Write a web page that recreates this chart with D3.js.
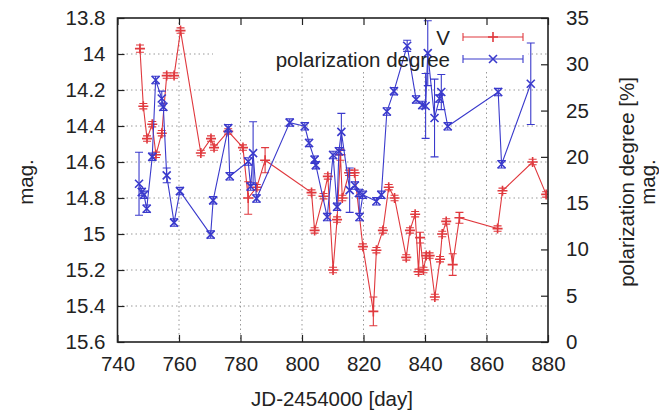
<!DOCTYPE html>
<html>
<head>
<meta charset="utf-8">
<script src="https://cdn.jsdelivr.net/npm/d3@7"></script>
<style>
  body { margin: 0; background: #fff; }
  text { font-family: "Liberation Sans", Arial, sans-serif; fill: #222; }
</style>
</head>
<body>
<div id="chart"></div>
<script>
// tick labels
var xTicks = [740, 760, 780, 800, 820, 840, 860, 880];
var magTicks = [13.8, 14, 14.2, 14.4, 14.6, 14.8, 15, 15.2, 15.4, 15.6];
var polTicks = [0, 5, 10, 15, 20, 25, 30, 35];

// V magnitude
var vDay = [747.3, 748.4, 749.6, 751.3, 752.5, 754.4, 756.0, 758.4, 760.5, 767.1, 770.4, 771.4, 776.0, 780.8, 782.5, 785.3, 788.0,
  803.1, 804.1, 807.0, 808.4, 810.1, 811.4, 812.5, 813.1, 815.3, 817.1, 819.8, 823.2, 824.2, 826.3, 828.2, 830.1, 833.9, 835.1,
  836.8, 837.9, 838.4, 839.5, 840.4, 841.5, 843.2, 844.9, 845.6, 846.9, 849.0, 851.2, 863.6, 865.2, 875.0, 879.4];
var vMag = [13.97, 14.29, 14.47, 14.39, 14.56, 14.44, 14.12, 14.12, 13.87, 14.55, 14.47, 14.52, 14.43, 14.52, 14.80, 14.74, 14.59,
  14.77, 14.98, 14.79, 14.68, 15.20, 14.92, 14.56, 14.80, 14.66, 14.66, 15.07, 15.43, 15.09, 14.98, 14.74, 14.80, 15.13, 14.98,
  14.89, 15.21, 15.02, 15.20, 15.12, 15.12, 15.35, 15.14, 15.00, 14.93, 15.17, 14.91, 14.97, 14.76, 14.60, 14.78];
var vErr = [0.02, 0.015, 0.015, 0.015, 0.015, 0.015, 0.015, 0.015, 0.015, 0.015, 0.015, 0.015, 0.015, 0.015, 0.09, 0.015, 0.07,
  0.015, 0.015, 0.015, 0.015, 0.015, 0.015, 0.03, 0.015, 0.015, 0.015, 0.015, 0.08, 0.015, 0.015, 0.015, 0.015, 0.015, 0.015,
  0.015, 0.015, 0.03, 0.015, 0.015, 0.015, 0.015, 0.015, 0.015, 0.015, 0.06, 0.03, 0.015, 0.015, 0.015, 0.015];

// polarization degree [%]
var pDay = [747.0, 747.9, 748.6, 749.5, 751.3, 752.4, 754.4, 754.9, 756.0, 758.4, 760.3, 770.3, 771.1, 776.0, 776.5, 782.5, 783.3,
  784.1, 785.2, 796.0, 800.9, 802.3, 804.1, 804.5, 808.2, 810.1, 811.4, 812.0, 812.8, 815.5, 817.2, 818.5, 818.7, 819.8, 824.2,
  825.8, 827.6, 829.9, 834.2, 837.1, 839.1, 840.2, 840.9, 843.1, 844.7, 845.3, 847.4, 863.8, 864.9, 874.4];
var pPol = [17.1, 16.2, 15.9, 14.4, 20.0, 28.3, 26.3, 25.4, 18.0, 12.9, 16.3, 11.6, 15.3, 23.1, 17.9, 19.5, 16.8,
  20.4, 15.5, 23.7, 23.3, 21.5, 19.7, 19.1, 13.5, 20.2, 14.6, 20.6, 22.7, 16.4, 16.9, 16.1, 13.5, 15.9, 15.2,
  15.9, 24.9, 27.1, 32.0, 26.2, 25.6, 25.5, 31.2, 24.2, 26.3, 27.0, 23.3, 27.0, 19.2, 27.9];
var pErr = [3.4, 0.4, 0.4, 0.4, 0.4, 0.4, 0.8, 0.4, 0.8, 0.4, 0.4, 0.4, 0.4, 0.4, 0.4, 0.4, 0.4,
  3.4, 0.4, 0.4, 0.4, 0.4, 0.4, 0.4, 0.4, 0.4, 0.4, 0.4, 2.0, 2.4, 0.4, 0.4, 0.4, 0.4, 0.4,
  0.4, 0.4, 0.4, 0.6, 0.4, 0.4, 3.5, 3.5, 4.2, 0.4, 1.9, 0.4, 0.4, 0.4, 4.4];

var width = 659, height = 410;
var plotL = 117.5, plotR = 548, plotT = 18, plotB = 342;
var red = "#e0393e", blue = "#3a3acc";
var fontSize = "20.5px";

var svg = d3.select("#chart").append("svg")
    .attr("width", width)
    .attr("height", height);

var x = d3.scaleLinear().domain([740, 880]).range([plotL, plotR]);
var yMag = d3.scaleLinear().domain([13.8, 15.6]).range([plotT, plotB]);
var yPol = d3.scaleLinear().domain([0, 35]).range([plotB, plotT]);

// grid
var grid = svg.append("g").attr("stroke", "#999").attr("stroke-width", 1).attr("stroke-dasharray", "1.5,3");
grid.selectAll("line.gx").data(xTicks.slice(1, -1)).enter().append("line")
    .attr("x1", function (d) { return x(d); }).attr("x2", function (d) { return x(d); })
    .attr("y1", plotT).attr("y2", plotB);
grid.selectAll("line.gy").data(magTicks.slice(1, -1)).enter().append("line")
    .attr("x1", plotL).attr("x2", plotR)
    .attr("y1", function (d) { return yMag(d); }).attr("y2", function (d) { return yMag(d); });

// key area hides the grid
svg.append("rect").attr("x", 213).attr("y", plotT + 1).attr("width", 315).attr("height", 50).attr("fill", "#fff");

svg.append("clipPath").attr("id", "plotclip").append("rect")
    .attr("x", plotL).attr("y", plotT).attr("width", plotR - plotL).attr("height", plotB - plotT);

var vData = vDay.map(function (d, i) { return { x: d, y: vMag[i], e: vErr[i] }; });
var pData = pDay.map(function (d, i) { return { x: d, y: pPol[i], e: pErr[i] }; });

function drawSeries(data, yScale, color, marker) {
  var g = svg.append("g").attr("clip-path", "url(#plotclip)")
      .attr("stroke", color).attr("fill", "none").attr("stroke-width", 1.1);
  var line = d3.line().x(function (d) { return x(d.x); }).y(function (d) { return yScale(d.y); });
  g.append("path").datum(data).attr("d", line);
  var pts = g.selectAll("g.pt").data(data).enter().append("g");
  pts.append("path").attr("d", function (d) {
    var cx = x(d.x), y1 = yScale(d.y - d.e), y2 = yScale(d.y + d.e);
    return "M" + cx + "," + y1 + "V" + y2 +
      "M" + (cx - 4) + "," + y1 + "H" + (cx + 4) +
      "M" + (cx - 4) + "," + y2 + "H" + (cx + 4);
  });
  pts.append("path").attr("stroke-width", 1.6).attr("d", function (d) {
    return marker(x(d.x), yScale(d.y));
  });
}
function plus(cx, cy) { return "M" + (cx - 5) + "," + cy + "H" + (cx + 5) + "M" + cx + "," + (cy - 5) + "V" + (cy + 5); }
function cross(cx, cy) { return "M" + (cx - 4) + "," + (cy - 4) + "L" + (cx + 4) + "," + (cy + 4) + "M" + (cx - 4) + "," + (cy + 4) + "L" + (cx + 4) + "," + (cy - 4); }

drawSeries(vData, yMag, red, plus);
drawSeries(pData, yPol, blue, cross);

// axes with inward ticks
var axisStyle = function (g) {
  g.select(".domain").remove();
  g.selectAll(".tick line").attr("stroke", "#222").attr("stroke-width", 1.2);
  g.selectAll("text").style("font-size", fontSize).attr("fill", "#222");
};
svg.append("g").attr("transform", "translate(0," + plotB + ")")
    .call(d3.axisBottom(x).tickValues(xTicks).tickSize(-7).tickPadding(14)).call(axisStyle);
svg.append("g").attr("transform", "translate(0," + plotT + ")")
    .call(d3.axisTop(x).tickValues(xTicks).tickSize(-7).tickFormat("")).call(axisStyle);
svg.append("g").attr("transform", "translate(" + plotL + ",0)")
    .call(d3.axisLeft(yMag).tickValues(magTicks).tickSize(-7).tickPadding(12).tickFormat(d3.format("~g"))).call(axisStyle);
svg.append("g").attr("transform", "translate(" + plotR + ",0)")
    .call(d3.axisRight(yPol).tickValues(polTicks).tickSize(-7).tickPadding(18)).call(axisStyle);

svg.append("rect").attr("x", plotL).attr("y", plotT).attr("width", plotR - plotL).attr("height", plotB - plotT)
    .attr("fill", "none").attr("stroke", "#222").attr("stroke-width", 1.6);

// axis titles
svg.append("text").attr("x", 332).attr("y", 406).attr("text-anchor", "middle").style("font-size", fontSize)
    .text("JD-2454000 [day]");
svg.append("text").attr("transform", "translate(25,182) rotate(-90)").attr("text-anchor", "middle")
    .attr("dominant-baseline", "central").style("font-size", fontSize).text("mag.");
svg.append("text").attr("transform", "translate(626,182) rotate(-90)").attr("text-anchor", "middle")
    .attr("dominant-baseline", "central").style("font-size", fontSize).text("polarization degree [%]");
svg.append("text").attr("transform", "translate(647,182) rotate(-90)").attr("text-anchor", "middle")
    .attr("dominant-baseline", "central").style("font-size", fontSize).text("mag.");

// key
var keys = [{ label: "V", color: red, marker: plus, y: 37 }, { label: "polarization degree", color: blue, marker: cross, y: 59 }];
keys.forEach(function (k) {
  svg.append("text").attr("x", 450).attr("y", k.y).attr("text-anchor", "end")
      .attr("dominant-baseline", "central").style("font-size", fontSize).text(k.label);
  svg.append("path").attr("fill", "none").attr("stroke", k.color).attr("stroke-width", 1.1)
      .attr("d", "M463," + k.y + "H523M463," + (k.y - 4) + "V" + (k.y + 4) + "M523," + (k.y - 4) + "V" + (k.y + 4));
  svg.append("path").attr("fill", "none").attr("stroke", k.color).attr("stroke-width", 1.6)
      .attr("d", k.marker(493, k.y));
});
</script>
</body>
</html>
